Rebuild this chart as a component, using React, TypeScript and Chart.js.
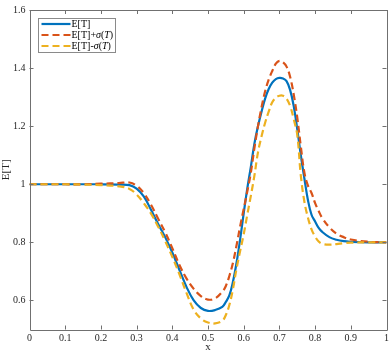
import React, { useEffect, useRef } from "react";
import { Chart, registerables } from "chart.js";

Chart.register(...registerables);

const xValues = [
  0, 0.05, 0.1, 0.15, 0.2, 0.25, 0.28, 0.3, 0.32, 0.34, 0.36, 0.38, 0.4, 0.42, 0.44, 0.46, 0.48, 0.5,
  0.52, 0.54, 0.55, 0.56, 0.57, 0.58, 0.59, 0.6, 0.61, 0.62, 0.63, 0.64, 0.65, 0.66, 0.67, 0.68, 0.69,
  0.7, 0.71, 0.72, 0.73, 0.74, 0.75, 0.76, 0.77, 0.78, 0.79, 0.8, 0.81, 0.82, 0.84, 0.86, 0.88, 0.9,
  0.95, 1.0,
];

const meanValues = [
  1.0, 1.0, 1.0, 1.0, 1.0, 0.999, 0.997, 0.985, 0.958, 0.913, 0.864, 0.818, 0.765, 0.705, 0.646, 0.6,
  0.574, 0.564, 0.567, 0.578, 0.595, 0.618, 0.665, 0.73, 0.81, 0.9, 0.985, 1.06, 1.14, 1.2, 1.25, 1.295,
  1.328, 1.35, 1.362, 1.366, 1.364, 1.355, 1.325, 1.27, 1.19, 1.1, 1.02, 0.945, 0.895, 0.872, 0.85,
  0.836, 0.818, 0.809, 0.804, 0.802, 0.8, 0.8,
];

const upperValues = [
  1.0, 1.0, 1.0, 1.0, 1.002, 1.004, 1.006, 0.995, 0.97, 0.93, 0.882, 0.835, 0.78, 0.722, 0.675, 0.64,
  0.615, 0.603, 0.607, 0.63, 0.65, 0.685, 0.73, 0.79, 0.855, 0.915, 0.975, 1.04, 1.125, 1.2, 1.265, 1.32,
  1.36, 1.39, 1.415, 1.425, 1.42, 1.405, 1.37, 1.31, 1.23, 1.13, 1.04, 0.995, 0.97, 0.935, 0.908, 0.884,
  0.852, 0.83, 0.818, 0.81, 0.802, 0.8,
];

const lowerValues = [
  1.0, 1.0, 1.0, 0.999, 0.997, 0.993, 0.984, 0.965, 0.935, 0.9, 0.855, 0.805, 0.75, 0.69, 0.625, 0.568,
  0.538, 0.524, 0.521, 0.53, 0.55, 0.585, 0.64, 0.71, 0.77, 0.828, 0.895, 0.96, 1.03, 1.11, 1.165, 1.212,
  1.25, 1.282, 1.298, 1.305, 1.305, 1.295, 1.27, 1.225, 1.17, 1.03, 0.94, 0.885, 0.845, 0.82, 0.803,
  0.795, 0.792, 0.794, 0.797, 0.799, 0.8, 0.8,
];

const seriesLabels = ["E[T]", "E[T]+σ(T)", "E[T]-σ(T)"];
const xTickValues = [0, 0.1, 0.2, 0.3, 0.4, 0.5, 0.6, 0.7, 0.8, 0.9, 1];
const yTickValues = [0.6, 0.8, 1.0, 1.2, 1.4, 1.6];

const FONT = "'Liberation Serif', 'DejaVu Serif', serif";
const AXIS_COLOR = "#707070";

const boxPlugin = {
  id: "matlabBox",
  afterDraw(chart: any) {
    const ctx = chart.ctx;
    const { left, right, top, bottom } = chart.chartArea;
    const xs = chart.scales.x;
    const ys = chart.scales.y;
    ctx.save();
    ctx.strokeStyle = AXIS_COLOR;
    ctx.lineWidth = 1;
    ctx.beginPath();
    ctx.rect(Math.round(left) + 0.5, Math.round(top) + 0.5, Math.round(right - left), Math.round(bottom - top));
    ctx.stroke();
    const tl = 4;
    ctx.beginPath();
    xTickValues.forEach((v) => {
      const px = Math.round(xs.getPixelForValue(v)) + 0.5;
      ctx.moveTo(px, bottom);
      ctx.lineTo(px, bottom - tl);
      ctx.moveTo(px, top);
      ctx.lineTo(px, top + tl);
    });
    yTickValues.forEach((v) => {
      const py = Math.round(ys.getPixelForValue(v)) + 0.5;
      ctx.moveTo(left, py);
      ctx.lineTo(left + tl, py);
      ctx.moveTo(right, py);
      ctx.lineTo(right - tl, py);
    });
    ctx.stroke();

    // legend
    const lx = Math.round(left) + 8.5;
    const ly = Math.round(top) + 8.5;
    const lw = 77;
    const lh = 34;
    ctx.fillStyle = "#ffffff";
    ctx.fillRect(lx, ly, lw, lh);
    ctx.strokeStyle = "#8a8a8a";
    ctx.strokeRect(lx, ly, lw, lh);
    chart.data.datasets.forEach((ds: any, i: number) => {
      const y = ly + 5.5 + i * 11;
      ctx.save();
      ctx.strokeStyle = ds.borderColor;
      ctx.lineWidth = ds.borderWidth;
      ctx.setLineDash(ds.borderDash || []);
      ctx.beginPath();
      ctx.moveTo(lx + 3, y);
      ctx.lineTo(lx + 32, y);
      ctx.stroke();
      ctx.restore();
      ctx.fillStyle = "#000000";
      ctx.textBaseline = "middle";
      ctx.textAlign = "left";
      let tx = lx + 33;
      const label: string = ds.label;
      for (let k = 0; k < label.length; k++) {
        const ch = label[k];
        const italic = ch === "σ" || (ch === "T" && label[k - 1] === "(");
        ctx.font = (italic ? "italic " : "") + "10px " + FONT;
        ctx.fillText(ch, tx, y);
        tx += ctx.measureText(ch).width;
      }
    });
    ctx.restore();
  },
};

export default function App() {
  const ref = useRef<HTMLCanvasElement>(null);
  useEffect(() => {
    document.body.style.margin = "0";
    const canvas = ref.current;
    if (!canvas) return;
    const mk = (vals: number[]) => xValues.map((x, i) => ({ x, y: vals[i] }));
    const common = { pointRadius: 0, borderWidth: 2.2, tension: 0.4 };
    const chart = new Chart(canvas, {
      type: "line",
      data: {
        datasets: [
          { label: seriesLabels[0], data: mk(meanValues), borderColor: "#0072BD", order: 2, ...common },
          { label: seriesLabels[1], data: mk(upperValues), borderColor: "#D95319", borderDash: [7, 4], order: 1, ...common },
          { label: seriesLabels[2], data: mk(lowerValues), borderColor: "#EDB120", borderDash: [7, 4], order: 0, ...common },
        ],
      },
      options: {
        responsive: false,
        animation: false,
        layout: { padding: { top: 5, right: 2, left: 0, bottom: 0 } },
        plugins: { legend: { display: false }, tooltip: { enabled: false } },
        scales: {
          x: {
            type: "linear",
            min: 0,
            max: 1,
            grid: { display: false, drawTicks: false },
            border: { display: false },
            afterBuildTicks: (s: any) => {
              s.ticks = xTickValues.map((v) => ({ value: v }));
            },
            afterFit: (s: any) => {
              s.height = 24.5;
            },
            ticks: {
              padding: 3,
              color: "#262626",
              font: { family: FONT, size: 10 },
              maxRotation: 0,
              callback: (v: any) => String(Math.round(Number(v) * 10) / 10),
            },
            title: {
              display: true,
              text: "x",
              color: "#262626",
              font: { family: FONT, size: 11 },
              padding: { top: 0, bottom: 0 },
            },
          },
          y: {
            type: "linear",
            min: 0.5,
            max: 1.6,
            grid: { display: false, drawTicks: false },
            border: { display: false },
            afterBuildTicks: (s: any) => {
              s.ticks = yTickValues.map((v) => ({ value: v }));
            },
            afterFit: (s: any) => {
              s.width = 29.5;
            },
            ticks: {
              padding: 4,
              color: "#262626",
              font: { family: FONT, size: 10 },
              callback: (v: any) => String(Math.round(Number(v) * 10) / 10),
            },
            title: {
              display: true,
              text: "E[T]",
              color: "#262626",
              font: { family: FONT, size: 11 },
              padding: { top: 0, bottom: 0 },
            },
          },
        },
      },
      plugins: [boxPlugin],
    } as any);
    return () => chart.destroy();
  }, []);
  return <canvas ref={ref} width={392} height={354} style={{ display: "block" }} />;
}
